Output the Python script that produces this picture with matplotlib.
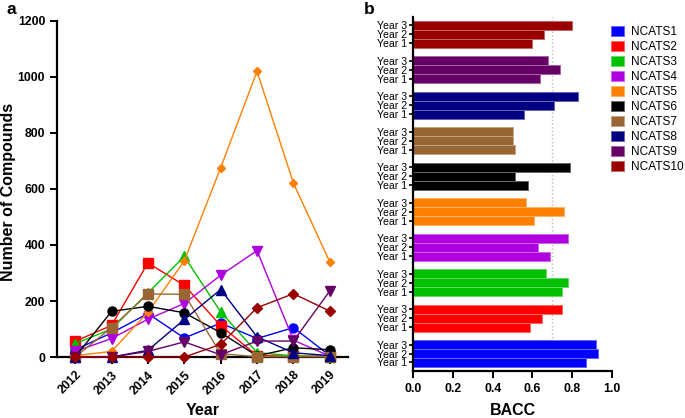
import matplotlib
matplotlib.use("Agg")
from matplotlib import pyplot as plt
from matplotlib import colors as mcolors
import numpy as np

plt.rcParams['font.family'] = ['Liberation Sans', 'DejaVu Sans']

years = [2012, 2013, 2014, 2015, 2016, 2017, 2018, 2019]
names = ["NCATS1", "NCATS2", "NCATS3", "NCATS4", "NCATS5",
         "NCATS6", "NCATS7", "NCATS8", "NCATS9", "NCATS10"]
colours = ["#0000FF", "#FF0000", "#00C000", "#B000E0", "#FF8000",
           "#000000", "#996633", "#000080", "#660066", "#990000"]
markers = ["o", "s", "^", "v", "D", "o", "s", "^", "v", "D"]
msizes = [6.5, 6.5, 6.5, 6.5, 4, 6.5, 6.5, 6.5, 6.5, 5]

# number of compounds per year
ncats1 = [26, 86, 155, 68, 121, 66, 105, 5]
ncats2 = [56, 113, 336, 256, 112, 5, 3, 3]
ncats3 = [48, 100, 229, 359, 161, 16, 4, 1]
ncats4 = [20, 66, 135, 191, 292, 380, 60, 3]
ncats5 = [5, 20, 160, 343, 676, 1020, 621, 339]
ncats6 = [0, 163, 181, 158, 87, 4, 33, 26]
ncats7 = [0, 105, 225, 224, 12, 1, 1, 1]
ncats8 = [0, 0, 24, 134, 241, 72, 15, 5]
ncats9 = [0, 0, 20, 54, 8, 57, 57, 236]
ncats10 = [0, 0, 0, 0, 45, 176, 226, 164]
counts = [ncats1, ncats2, ncats3, ncats4, ncats5,
          ncats6, ncats7, ncats8, ncats9, ncats10]

# BACC, Year 1, Year 2, Year 3
bacc_year1 = [0.87, 0.59, 0.75, 0.69, 0.61, 0.58, 0.51, 0.56, 0.64, 0.60]
bacc_year2 = [0.93, 0.65, 0.78, 0.63, 0.76, 0.51, 0.50, 0.71, 0.74, 0.66]
bacc_year3 = [0.92, 0.75, 0.67, 0.78, 0.57, 0.79, 0.50, 0.83, 0.68, 0.80]
year_labels = ["Year 1", "Year 2", "Year 3"]


def lighter(c, amount=0.4):
	rgb = mcolors.to_rgb(c)
	return tuple((1 - amount) * e + amount for e in rgb)


fig = plt.figure(figsize=(6.85, 4.18), dpi=100)

# ---- panel a
ax = fig.add_axes([0.0832, 0.1459, 0.4248, 0.804])
for vals, c, m, ms in zip(counts, colours, markers, msizes):
	ax.plot(years, vals, color=c, marker=m, markersize=ms, linewidth=1.0,
	        clip_on=False, zorder=3)
ax.set_xlim(2011.5, 2019.5)
ax.set_ylim(0, 1200)
ax.set_yticks(range(0, 1201, 200))
ax.set_xticks(years)
ax.set_xticklabels([str(y) for y in years], rotation=45, ha="right",
                   rotation_mode="anchor")
for s in ["top", "right"]:
	ax.spines[s].set_visible(False)
for s in ["left", "bottom"]:
	ax.spines[s].set_linewidth(1.6)
ax.tick_params(width=1.4, length=5, labelsize=8.8)
for lab in ax.get_xticklabels() + ax.get_yticklabels():
	lab.set_fontweight("bold")
ax.set_xlabel("Year", fontsize=11.5, fontweight="bold")
ax.set_ylabel("Number of Compounds", fontsize=11.5, fontweight="bold")
ax.xaxis.set_label_coords(0.5, -0.137)
ax.yaxis.set_label_coords(-0.141, 0.49)

# ---- panel b
bx = fig.add_axes([0.603, 0.1124, 0.2905, 0.847])
pitch = 3.95
pos, labs = [], []
for g in range(10):
	base = g * pitch
	for k, vals in enumerate([bacc_year1, bacc_year2, bacc_year3]):
		c = colours[g]
		bx.barh(base + k, vals[g], height=1.0, color=c, edgecolor=lighter(c),
		        linewidth=0.7, zorder=2)
		pos.append(base + k)
		labs.append(year_labels[k])
bx.axvline(0.7, color="#bbbbbb", linestyle=":", linewidth=1.0, zorder=1)
bx.set_xlim(0, 1.0)
bx.set_ylim(-0.95, 9 * pitch + 2.95)
bx.set_yticks(pos)
bx.set_yticklabels(labs)
bx.set_xticks(np.arange(0, 1.01, 0.2))
bx.set_xticklabels([f"{v:.1f}" for v in np.arange(0, 1.01, 0.2)])
for s in ["top", "right"]:
	bx.spines[s].set_visible(False)
for s in ["left", "bottom"]:
	bx.spines[s].set_linewidth(1.6)
bx.tick_params(axis="x", width=1.4, length=5, labelsize=8.8)
bx.tick_params(axis="y", width=1.2, length=3, labelsize=7.6, pad=1)
for lab in bx.get_xticklabels():
	lab.set_fontweight("bold")
bx.set_xlabel("BACC", fontsize=11.5, fontweight="bold")
bx.xaxis.set_label_coords(0.5, -0.09)

handles = [plt.Rectangle((0, 0), 1, 1, facecolor=c, edgecolor=lighter(c),
                         linewidth=0.7) for c in colours]
fig.legend(handles, names, loc="upper left", bbox_to_anchor=(0.892, 0.937),
           frameon=False, fontsize=8.6, handlelength=1.1, handleheight=0.9,
           labelspacing=0.24, handletextpad=0.6, borderaxespad=0, borderpad=0)

fig.text(0.009, 0.995, "a", fontsize=12.5, fontweight="bold", va="top")
fig.text(0.531, 0.995, "b", fontsize=12.5, fontweight="bold", va="top")

fig.savefig("out.png", dpi=100)
